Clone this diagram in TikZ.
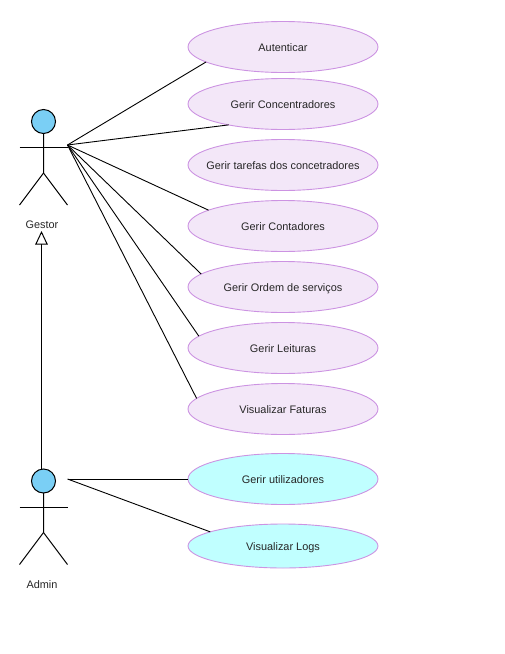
\documentclass[tikz,border=0pt]{standalone}
\usepackage{fontspec}
\setmainfont{Liberation Sans}
\usetikzlibrary{shapes.geometric,arrows.meta,positioning}
\definecolor{usefill}{HTML}{F3E7F8}
\definecolor{useline}{HTML}{CC93E2}
\definecolor{adminfill}{HTML}{C0FFFF}
\definecolor{headfill}{HTML}{7ACFF5}
\tikzset{usecase/.style={ellipse, draw=useline, fill=usefill, line width=0.9pt, minimum width=190pt, minimum height=51pt, inner xsep=-20pt, inner ysep=0pt, outer sep=0pt, text=black!85, text height=8pt, text depth=0pt, font=\fontsize{10.9}{12}\selectfont},
  admincase/.style={usecase, fill=adminfill},
  head/.style={circle, draw=black, fill=headfill, line width=1pt, minimum size=24pt, inner sep=0pt, outer sep=0pt},
  actorlabel/.style={text=black!85, font=\fontsize{10.9}{12}\selectfont},
  limb/.style={line width=1pt},
  assoc/.style={line width=0.9pt},
  inherit/.style={line width=1pt, -{Triangle[open, length=13.5pt, width=12.5pt, fill=white]}}}

\begin{document}
\begin{tikzpicture}[x=1pt,y=-1pt]
    \useasboundingbox (0,0) rectangle (505,654);
    % use cases
    \node[usecase] (U1) at (283,47) {Autenticar};
    \node[usecase,below=6pt of U1] (U2) {Gerir Concentradores};
    \node[usecase,below=10pt of U2] (U3) {Gerir tarefas dos concetradores};
    \node[usecase,below=10pt of U3] (U4) {Gerir Contadores};
    \node[usecase,below=10pt of U4] (U5) {Gerir Ordem de serviços};
    \node[usecase,below=10pt of U5] (U6) {Gerir Leituras};
    \node[usecase,below=10pt of U6] (U7) {Visualizar Faturas};
    \node[admincase,below=19pt of U7] (U8) {Gerir utilizadores};
    \node[admincase,below=19.5pt of U8,minimum height=44pt] (U9) {Visualizar Logs};
    % actors
    \node[head] (G) at (43.5,121.5) {};
    \draw[limb] (G.south) -- ++(0,39.5) coordinate (Gfork) -- ++(-24,32);
    \draw[limb] (Gfork) -- ++(24,32);
    \draw[limb] (19.5,147) -- (67.5,147);
    \node[actorlabel] (Glabel) at (42,224.5) {Gestor};
    \node[head] (A) at (43.5,481) {};
    \draw[limb] (A.south) -- ++(0,39.5) coordinate (Afork) -- ++(-24,32);
    \draw[limb] (Afork) -- ++(24,32);
    \draw[limb] (19.5,507) -- (67.5,507);
    \node[actorlabel] (Alabel) at (42,584.5) {Admin};
    \coordinate (Gport) at (67.5,145);
    \coordinate (Aport) at (67.5,479);
    \coordinate (Gtip) at (41.5,231);
    \coordinate (Atop) at (41.5,469.5);
    % connectors
    \draw[assoc] (Gport) -- (U1.191);
    \draw[assoc] (Gport) -- (U2.201.6);
    \draw[assoc] (Gport) -- (U4.168);
    \draw[assoc] (Gport) -- (U5.171);
    \draw[assoc] (Gport) -- (U6.172.5);
    \draw[assoc] (Gport) -- (U7.173);
    \draw[assoc] (Aport) -- (U8.west);
    \draw[assoc] (Aport) -- (U9.169);
    \draw[inherit] (Atop) -- (Gtip);
\end{tikzpicture}
\end{document}
